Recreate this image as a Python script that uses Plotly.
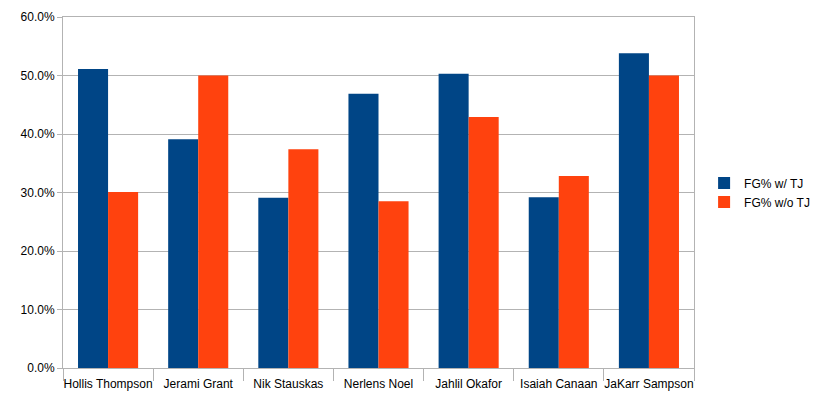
import plotly.graph_objects as go

players = ["Hollis Thompson", "Jerami Grant", "Nik Stauskas", "Nerlens Noel",
           "Jahlil Okafor", "Isaiah Canaan", "JaKarr Sampson"]
fg_with_tj = [0.511, 0.391, 0.291, 0.469, 0.503, 0.292, 0.538]
fg_without_tj = [0.301, 0.500, 0.374, 0.285, 0.429, 0.328, 0.500]
y_ticks = [0, 0.1, 0.2, 0.3, 0.4, 0.5, 0.6]
y_tick_labels = ["0.0%", "10.0%", "20.0%", "30.0%", "40.0%", "50.0%", "60.0%"]

fig = go.Figure()
fig.add_trace(go.Bar(x=players, y=fg_with_tj, name="FG% w/ TJ",
                     marker=dict(color="#004586", line=dict(width=0))))
fig.add_trace(go.Bar(x=players, y=fg_without_tj, name="FG% w/o TJ",
                     marker=dict(color="#ff420e", line=dict(width=0))))

font = dict(family="Liberation Sans, Arial, sans-serif", size=12, color="#000000")
fig.update_layout(
    width=820, height=399,
    # the page body adds an 8px offset, so margins are shifted accordingly
    margin=dict(l=55, r=134, t=9, b=39, autoexpand=False),
    paper_bgcolor="white", plot_bgcolor="white",
    barmode="group", bargap=1/3, bargroupgap=0,
    font=font,
    legend=dict(x=1.016, y=0.5, xanchor="left", yanchor="middle",
                bgcolor="rgba(0,0,0,0)",
                font=dict(family="Liberation Sans, Arial, sans-serif", size=12, color="#000"),
                tracegroupgap=0, itemwidth=30),
    xaxis=dict(showline=True, linecolor="#b3b3b3", linewidth=1, mirror=True,
               ticks="outside", tickson="boundaries", ticklen=12, tickcolor="#b3b3b3",
               showgrid=False, tickfont=font, tickangle=0, automargin=False,
               ticklabelstandoff=5),
    yaxis=dict(range=[0, 0.6], tickvals=y_ticks, ticktext=y_tick_labels,
               showline=True, linecolor="#b3b3b3", linewidth=1, mirror=True,
               ticks="outside", ticklen=5, tickcolor="#b3b3b3",
               showgrid=True, gridcolor="#b3b3b3", gridwidth=1,
               zeroline=False, tickfont=font, automargin=False),
)
fig.write_html("out.html")
